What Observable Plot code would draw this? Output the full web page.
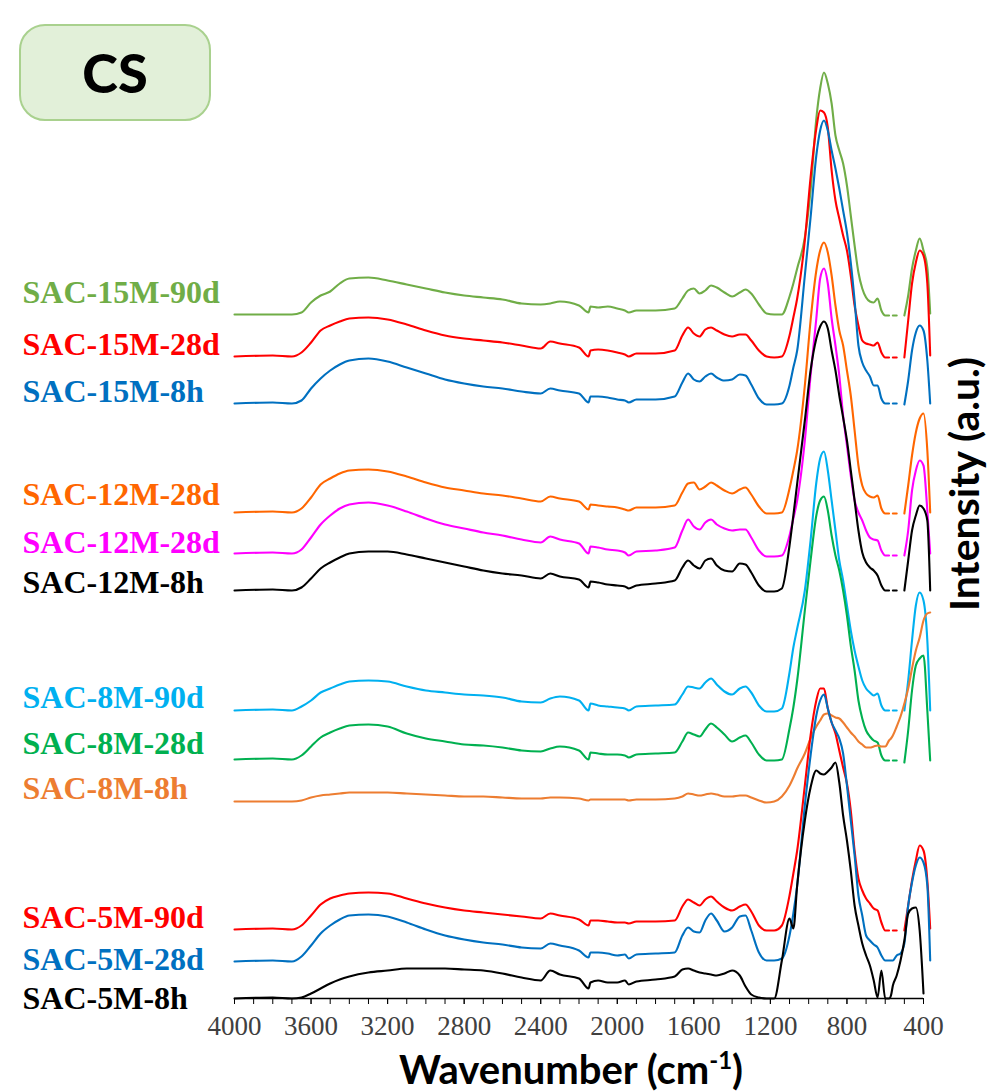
<!DOCTYPE html>
<html>
<head>
<meta charset="utf-8">
<script src="https://cdn.jsdelivr.net/npm/d3@7"></script>
<script src="https://cdn.jsdelivr.net/npm/@observablehq/plot@0.6"></script>
<style>
  html, body { margin: 0; padding: 0; background: #fff; }
  #wrap { position: relative; width: 992px; height: 1092px; overflow: hidden; }
  #chart svg { display: block; }
  #tag {
    position: absolute; left: 19px; top: 24px; width: 188px; height: 93px;
    border: 2.5px solid #a9d18e; border-radius: 26px; background: #e2f0d9;
    display: flex; align-items: center; justify-content: center;
    font: 900 54px Lato, sans-serif; color: #000;
  }
</style>
</head>
<body>
<div id="wrap">
  <div id="chart"></div>
  <div id="tag">CS</div>
</div>
<script>
// Wavenumber grid (cm-1) shared by every spectrum
const wavenumber = [4000, 3800, 3700, 3650, 3600, 3550, 3500, 3450, 3400, 3300,
  3200, 3100, 3000, 2900, 2800, 2700, 2600, 2500, 2400, 2350,
  2300, 2200, 2150, 2140, 2100, 2050, 2000, 1960, 1940, 1900,
  1800, 1700, 1660, 1630, 1600, 1570, 1540, 1510, 1480, 1440,
  1400, 1360, 1330, 1300, 1260, 1220, 1180, 1140, 1100, 1080,
  1060, 1020, 990, 960, 940, 920, 900, 880, 860, 840,
  820, 800, 780, 760, 740, 720, 700, 680, 660, 640,
  620, 600, 580, 570, 560, 540, 520, 500, 480, 460,
  440, 420, 400, 380, 365];

// Stacked intensities (a.u., offsets included); null marks a break in the trace
const sac15M90d = [684,684,684,686,696,703,707,715,720,721,
  718,714,710,706,703,701,699,695,694,695,
  697,693,686,692,691,692,690,688,686,688,
  688,690,700,708,710,705,708,713,711,706,
  702,706,709,705,694,685,684,684,702,715,
  730,761,808,880,910,926,915,895,863,848,
  835,813,783,753,726,710,701,697,696,700,
  688,683,683,null,683,683,null,683,703,730,
  748,760,748,731,685];
const sac15M28d = [642,643,642,646,656,668,673,677,680,681,
  679,674,668,663,660,658,656,653,650,657,
  655,651,642,648,649,648,646,644,642,645,
  645,648,663,671,665,662,669,671,668,664,
  662,664,664,658,648,642,641,642,663,681,
  700,758,821,870,888,886,871,828,798,780,
  763,748,723,693,673,658,655,654,653,656,
  646,641,641,null,641,641,null,641,678,715,
  736,748,743,715,643];
const sac15M8h = [595,596,595,598,610,620,628,634,638,640,
  637,631,625,619,615,612,610,607,605,610,
  608,605,596,602,602,601,599,598,596,599,
  599,602,616,625,619,617,622,625,621,618,
  619,624,623,614,600,594,594,595,613,631,
  648,723,781,843,868,878,868,848,830,810,
  788,766,736,698,653,636,628,622,613,613,
  600,595,595,null,595,595,null,594,618,648,
  666,673,668,638,595];
const sac12M28dA = [486,487,486,490,501,514,520,525,528,529,
  527,522,516,511,508,505,503,500,497,502,
  500,497,489,494,493,492,491,489,488,491,
  491,493,506,515,516,509,512,516,513,508,
  505,509,511,504,492,485,485,486,510,528,
  548,613,678,728,748,756,746,723,693,668,
  653,628,603,568,533,513,505,502,501,503,
  490,485,485,null,485,485,null,485,513,543,
  566,580,585,548,486];
const sac12M28dB = [445,446,445,449,461,474,483,490,494,496,
  493,487,480,474,470,466,463,459,456,462,
  459,455,445,452,451,449,448,446,443,447,
  448,451,468,479,472,469,476,479,474,470,
  468,469,469,461,448,442,442,443,463,480,
  498,558,623,680,720,730,715,680,653,623,
  583,553,523,498,486,478,468,461,459,458,
  448,443,443,null,443,443,null,443,468,508,
  528,538,533,488,445];
const sac12M8h = [408,409,408,411,420,430,436,441,445,447,
  447,444,440,436,432,428,425,423,420,425,
  422,419,411,417,416,414,413,412,410,413,
  415,418,431,438,433,430,438,440,433,428,
  427,435,434,426,413,407,407,410,453,483,
  515,578,628,660,672,677,670,648,628,603,
  581,558,528,498,468,446,436,431,428,423,
  413,408,408,null,408,408,null,408,438,468,
  483,493,490,478,408];
const sac8M90d = [288,289,288,292,298,306,310,314,317,318,
  317,312,308,306,304,303,301,297,296,300,
  302,298,288,295,293,292,291,290,288,292,
  293,294,304,312,311,310,316,320,314,307,
  304,310,312,306,293,287,287,290,326,351,
  370,408,458,516,540,547,528,498,468,438,
  418,393,368,348,332,318,310,306,303,305,
  293,288,288,null,288,288,null,288,318,358,
  393,406,398,358,288];
const sac8M28d = [239,240,239,243,252,261,266,270,273,274,
  272,265,260,257,254,253,251,248,247,250,
  252,248,239,246,245,244,244,243,241,244,
  245,246,257,266,264,262,269,275,271,264,
  257,261,263,256,244,238,238,239,270,291,
  318,388,438,483,498,502,488,463,443,428,
  408,383,353,328,298,280,268,262,258,256,
  243,238,238,null,238,238,null,236,268,308,
  333,340,343,288,238];
const sac8M8h = [197,197,197,198,201,203,204,205,206,206,
  206,205,204,203,202,202,201,200,200,201,
  201,200,198,199,199,199,199,199,198,199,
  199,200,202,205,204,203,204,205,204,202,
  202,203,203,201,198,196,197,202,213,221,
  230,245,260,272,278,284,285,283,281,280,
  276,271,266,262,257,254,251,251,252,253,
  252,252,258,260,263,272,282,295,310,330,
  348,361,378,385,386];
const sac5M90d = [69,70,69,73,83,94,100,103,105,106,
  105,100,95,91,88,86,84,82,80,85,
  83,79,73,78,78,77,76,76,75,77,
  77,78,92,99,96,93,99,102,97,91,
  88,92,94,87,73,68,68,73,103,125,
  148,213,263,298,310,310,290,276,265,248,
  231,215,188,148,120,108,100,95,90,88,
  76,68,68,null,68,68,null,68,93,118,
  138,153,148,118,70];
const sac5M28d = [37,38,37,42,53,65,73,79,83,84,
  82,76,69,63,59,56,54,51,50,55,
  53,48,41,46,46,45,43,44,40,44,
  45,46,63,71,67,66,78,85,78,67,
  71,82,83,68,46,38,38,40,63,85,
  113,193,243,283,298,304,290,276,268,260,
  245,213,178,143,103,83,63,58,54,51,
  43,38,38,38,38,43,45,55,93,116,
  133,141,136,113,38];
const sac5M8h = [0,1,0,1,5,10,15,19,22,26,
  28,30,30,30,29,28,25,21,18,28,
  24,20,10,16,18,16,16,18,14,17,
  19,22,29,30,28,26,25,24,23,25,
  28,23,12,4,1,0,0,38,80,70,
  113,178,211,228,225,224,227,231,236,216,
  183,158,128,93,73,55,43,33,18,1,
  28,0,0,3,13,23,38,58,85,90,
  91,68,5,null,null];

const seriesNames = ["SAC-15M-90d", "SAC-15M-28d", "SAC-15M-8h",
  "SAC-12M-28d", "SAC-12M-28d", "SAC-12M-8h",
  "SAC-8M-90d", "SAC-8M-28d", "SAC-8M-8h",
  "SAC-5M-90d", "SAC-5M-28d", "SAC-5M-8h"];
const seriesColors = ["#70ad47", "#ff0000", "#0070c0",
  "#ff6600", "#ff00ff", "#000000",
  "#00b0f0", "#00b050", "#ed7d31",
  "#ff0000", "#0070c0", "#000000"];
// intensity level at which each sample name is written
const labelLevel = [706, 654, 607, 504, 456, 416, 301, 255, 210, 81, 39, 0];

const majorTicks = [4000, 3600, 3200, 2800, 2400, 2000, 1600, 1200, 800, 400];
const minorTicks = d3.range(400, 4001, 100);

const spectra = [sac15M90d, sac15M28d, sac15M8h, sac12M28dA, sac12M28dB, sac12M8h,
  sac8M90d, sac8M28d, sac8M8h, sac5M90d, sac5M28d, sac5M8h];

const marks = [];

// one trace per sample
spectra.forEach((vals, i) => {
  const rows = wavenumber.map((wn, j) => ({wn, v: vals[j]}));
  marks.push(Plot.line(rows, {
    x: "wn", y: "v", stroke: seriesColors[i], strokeWidth: 2.1,
    curve: "monotone-x", strokeLinejoin: "round"
  }));
});

// sample names on the left
seriesNames.forEach((name, i) => {
  marks.push(Plot.text([{v: labelLevel[i], name}], {
    y: "v", text: "name", frameAnchor: "left", dx: -212, textAnchor: "start",
    fill: seriesColors[i], fontSize: 32, fontWeight: "bold",
    fontFamily: "'Liberation Serif', 'Times New Roman', serif"
  }));
});

// x axis: baseline, minor ticks every 100, labelled ticks every 400
marks.push(Plot.ruleY([0], {stroke: "#000", strokeWidth: 1.3}));
marks.push(Plot.axisX(minorTicks, {
  tickSize: 6, tickFormat: () => "", label: null, stroke: "#000"
}));
marks.push(Plot.axisX(majorTicks, {
  tickSize: 6, tickPadding: 11, tickFormat: d => String(d), label: null,
  stroke: "#000", fill: "#404040", fontSize: 27,
  fontFamily: "'Liberation Serif', 'Times New Roman', serif"
}));

const svg = Plot.plot({
  width: 992,
  height: 1092,
  marginLeft: 234,
  marginRight: 69,
  marginTop: 38,
  marginBottom: 94,
  x: {domain: [4000, 400]},
  y: {domain: [0, 960], axis: null},
  style: {background: "transparent", color: "#000", overflow: "visible"},
  marks
});

// axis titles
const s = d3.select(svg);
const xt = s.append("text")
  .attr("x", 571).attr("y", 1084)
  .attr("text-anchor", "middle")
  .attr("font-family", "Lato, sans-serif")
  .attr("font-weight", 700)
  .attr("font-size", 40)
  .attr("fill", "#000");
xt.append("tspan").text("Wavenumber (cm");
xt.append("tspan").attr("font-size", 24).attr("dy", -15).text("-1");
xt.append("tspan").attr("dy", 15).text(")");

s.append("text")
  .attr("transform", "translate(979,484) rotate(-90)")
  .attr("text-anchor", "middle")
  .attr("font-family", "Lato, sans-serif")
  .attr("font-weight", 700)
  .attr("font-size", 41)
  .attr("fill", "#000")
  .text("Intensity (a.u.)");

document.getElementById("chart").appendChild(svg);
</script>
</body>
</html>
